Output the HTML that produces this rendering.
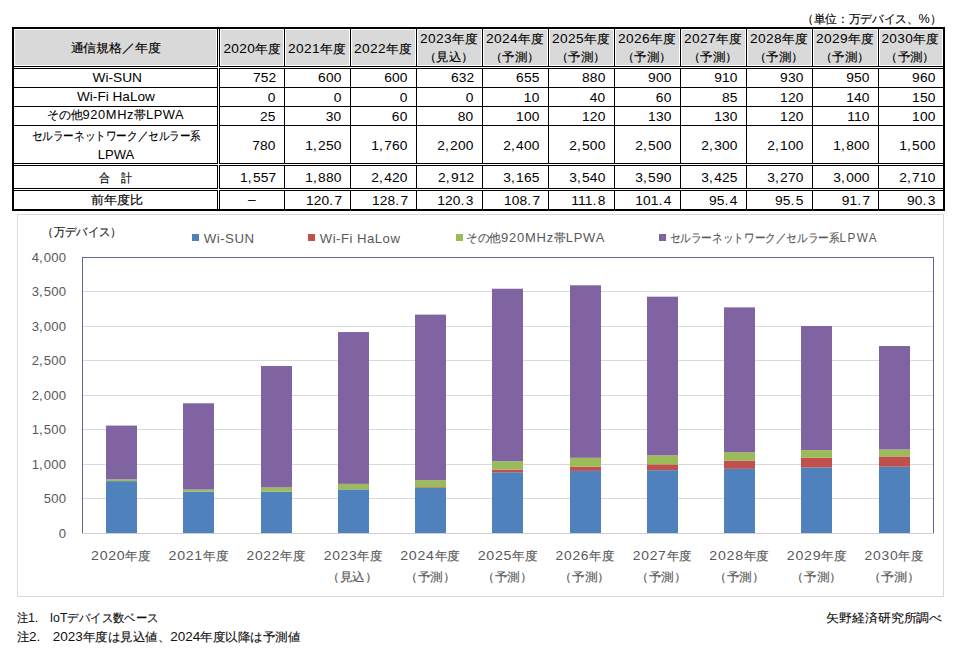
<!DOCTYPE html>
<html><head><meta charset="utf-8"><title>920MHz帯LPWA</title>
<style>
html,body{margin:0;padding:0;background:#fff;width:953px;height:666px;overflow:hidden}
svg{display:block;font-family:"Liberation Sans",sans-serif}
svg text{white-space:pre}
</style></head><body>
<svg width="953" height="666" viewBox="0 0 953 666">
<g id="shp" shape-rendering="crispEdges">
<rect x="15" y="30" width="201" height="35" fill="#d9d9d9"/>
<rect x="221" y="30" width="62" height="35" fill="#d9d9d9"/>
<rect x="286" y="30" width="63" height="35" fill="#d9d9d9"/>
<rect x="352" y="30" width="63" height="35" fill="#d9d9d9"/>
<rect x="418" y="30" width="63" height="35" fill="#d9d9d9"/>
<rect x="484" y="30" width="63" height="35" fill="#d9d9d9"/>
<rect x="550" y="30" width="63" height="35" fill="#d9d9d9"/>
<rect x="616" y="30" width="63" height="35" fill="#d9d9d9"/>
<rect x="682" y="30" width="63" height="35" fill="#d9d9d9"/>
<rect x="748" y="30" width="63" height="35" fill="#d9d9d9"/>
<rect x="814" y="30" width="63" height="35" fill="#d9d9d9"/>
<rect x="880" y="30" width="62" height="35" fill="#d9d9d9"/>
<rect x="217" y="27" width="1" height="184" fill="#000"/>
<rect x="219" y="27" width="1" height="184" fill="#000"/>
<rect x="284" y="27" width="1" height="184" fill="#000"/>
<rect x="350" y="27" width="1" height="184" fill="#000"/>
<rect x="416" y="27" width="1" height="184" fill="#000"/>
<rect x="482" y="27" width="1" height="184" fill="#000"/>
<rect x="548" y="27" width="1" height="184" fill="#000"/>
<rect x="614" y="27" width="1" height="184" fill="#000"/>
<rect x="680" y="27" width="1" height="184" fill="#000"/>
<rect x="746" y="27" width="1" height="184" fill="#000"/>
<rect x="812" y="27" width="1" height="184" fill="#000"/>
<rect x="878" y="27" width="1" height="184" fill="#000"/>
<rect x="12" y="66" width="933" height="1" fill="#000"/>
<rect x="12" y="68" width="933" height="1" fill="#000"/>
<rect x="12" y="87" width="933" height="1" fill="#000"/>
<rect x="12" y="106" width="933" height="1" fill="#000"/>
<rect x="12" y="125" width="933" height="1" fill="#000"/>
<rect x="12" y="163" width="933" height="1" fill="#000"/>
<rect x="12" y="165" width="933" height="1" fill="#000"/>
<rect x="12" y="188" width="933" height="1" fill="#000"/>
<rect x="12" y="190" width="933" height="1" fill="#000"/>
<rect x="12" y="27" width="933" height="2" fill="#000"/>
<rect x="12" y="209" width="933" height="2" fill="#000"/>
<rect x="12" y="27" width="2" height="184" fill="#000"/>
<rect x="943" y="27" width="2" height="184" fill="#000"/>
<rect x="218" y="29" width="1" height="180" fill="#fff"/>
<rect x="14" y="67" width="929" height="1" fill="#fff"/>
<rect x="14" y="164" width="929" height="1" fill="#fff"/>
<rect x="14" y="189" width="929" height="1" fill="#fff"/>
<rect x="17.5" y="214.5" width="926" height="382" fill="none" stroke="#d9d9d9" stroke-width="1"/>
<rect x="83" y="533" width="850" height="1" fill="#d9d9d9"/>
<rect x="83" y="498" width="850" height="1" fill="#d9d9d9"/>
<rect x="83" y="464" width="850" height="1" fill="#d9d9d9"/>
<rect x="83" y="429" width="850" height="1" fill="#d9d9d9"/>
<rect x="83" y="395" width="850" height="1" fill="#d9d9d9"/>
<rect x="83" y="360" width="850" height="1" fill="#d9d9d9"/>
<rect x="83" y="326" width="850" height="1" fill="#d9d9d9"/>
<rect x="83" y="291" width="850" height="1" fill="#d9d9d9"/>
<rect x="83" y="257" width="850" height="1" fill="#d9d9d9"/>
<rect x="106" y="481.11" width="31" height="51.89" fill="#4f81bd" shape-rendering="geometricPrecision"/>
<rect x="106" y="479.39" width="31" height="1.72" fill="#9bbb59" shape-rendering="geometricPrecision"/>
<rect x="106" y="425.57" width="31" height="53.82" fill="#8064a2" shape-rendering="geometricPrecision"/>
<rect x="183" y="491.60" width="31" height="41.40" fill="#4f81bd" shape-rendering="geometricPrecision"/>
<rect x="183" y="489.53" width="31" height="2.07" fill="#9bbb59" shape-rendering="geometricPrecision"/>
<rect x="183" y="403.28" width="31" height="86.25" fill="#8064a2" shape-rendering="geometricPrecision"/>
<rect x="261" y="491.60" width="31" height="41.40" fill="#4f81bd" shape-rendering="geometricPrecision"/>
<rect x="261" y="487.46" width="31" height="4.14" fill="#9bbb59" shape-rendering="geometricPrecision"/>
<rect x="261" y="366.02" width="31" height="121.44" fill="#8064a2" shape-rendering="geometricPrecision"/>
<rect x="338" y="489.39" width="31" height="43.61" fill="#4f81bd" shape-rendering="geometricPrecision"/>
<rect x="338" y="483.87" width="31" height="5.52" fill="#9bbb59" shape-rendering="geometricPrecision"/>
<rect x="338" y="332.07" width="31" height="151.80" fill="#8064a2" shape-rendering="geometricPrecision"/>
<rect x="415" y="487.81" width="31" height="45.19" fill="#4f81bd" shape-rendering="geometricPrecision"/>
<rect x="415" y="487.12" width="31" height="0.69" fill="#c0504d" shape-rendering="geometricPrecision"/>
<rect x="415" y="480.21" width="31" height="6.90" fill="#9bbb59" shape-rendering="geometricPrecision"/>
<rect x="415" y="314.62" width="31" height="165.60" fill="#8064a2" shape-rendering="geometricPrecision"/>
<rect x="492" y="472.28" width="31" height="60.72" fill="#4f81bd" shape-rendering="geometricPrecision"/>
<rect x="492" y="469.52" width="31" height="2.76" fill="#c0504d" shape-rendering="geometricPrecision"/>
<rect x="492" y="461.24" width="31" height="8.28" fill="#9bbb59" shape-rendering="geometricPrecision"/>
<rect x="492" y="288.74" width="31" height="172.50" fill="#8064a2" shape-rendering="geometricPrecision"/>
<rect x="570" y="470.90" width="31" height="62.10" fill="#4f81bd" shape-rendering="geometricPrecision"/>
<rect x="570" y="466.76" width="31" height="4.14" fill="#c0504d" shape-rendering="geometricPrecision"/>
<rect x="570" y="457.79" width="31" height="8.97" fill="#9bbb59" shape-rendering="geometricPrecision"/>
<rect x="570" y="285.29" width="31" height="172.50" fill="#8064a2" shape-rendering="geometricPrecision"/>
<rect x="647" y="470.21" width="31" height="62.79" fill="#4f81bd" shape-rendering="geometricPrecision"/>
<rect x="647" y="464.35" width="31" height="5.86" fill="#c0504d" shape-rendering="geometricPrecision"/>
<rect x="647" y="455.38" width="31" height="8.97" fill="#9bbb59" shape-rendering="geometricPrecision"/>
<rect x="647" y="296.67" width="31" height="158.70" fill="#8064a2" shape-rendering="geometricPrecision"/>
<rect x="724" y="468.83" width="31" height="64.17" fill="#4f81bd" shape-rendering="geometricPrecision"/>
<rect x="724" y="460.55" width="31" height="8.28" fill="#c0504d" shape-rendering="geometricPrecision"/>
<rect x="724" y="452.27" width="31" height="8.28" fill="#9bbb59" shape-rendering="geometricPrecision"/>
<rect x="724" y="307.37" width="31" height="144.90" fill="#8064a2" shape-rendering="geometricPrecision"/>
<rect x="801" y="467.45" width="31" height="65.55" fill="#4f81bd" shape-rendering="geometricPrecision"/>
<rect x="801" y="457.79" width="31" height="9.66" fill="#c0504d" shape-rendering="geometricPrecision"/>
<rect x="801" y="450.20" width="31" height="7.59" fill="#9bbb59" shape-rendering="geometricPrecision"/>
<rect x="801" y="326.00" width="31" height="124.20" fill="#8064a2" shape-rendering="geometricPrecision"/>
<rect x="879" y="466.76" width="31" height="66.24" fill="#4f81bd" shape-rendering="geometricPrecision"/>
<rect x="879" y="456.41" width="31" height="10.35" fill="#c0504d" shape-rendering="geometricPrecision"/>
<rect x="879" y="449.51" width="31" height="6.90" fill="#9bbb59" shape-rendering="geometricPrecision"/>
<rect x="879" y="346.01" width="31" height="103.50" fill="#8064a2" shape-rendering="geometricPrecision"/>
<rect x="82" y="257" width="852" height="1" fill="#5f6797"/>
<rect x="82" y="257" width="1" height="277" fill="#5f6797"/>
<rect x="933" y="257" width="1" height="277" fill="#5f6797"/>
<rect x="82" y="533" width="852" height="1" fill="#d0d0d0"/>
<rect x="192" y="234" width="7" height="7" fill="#4f81bd"/>
<rect x="308" y="234" width="7" height="7" fill="#c0504d"/>
<rect x="456" y="234" width="7" height="7" fill="#9bbb59"/>
<rect x="659" y="234" width="7" height="7" fill="#8064a2"/>
</g>
<g id="txt">
<text x="802.13" y="22.76" font-size="13" fill="#000" textLength="139.30" lengthAdjust="spacingAndGlyphs"><tspan font-size="11.96" stroke="#000" stroke-width="0.15">（単位：万デバイス、</tspan>%<tspan font-size="11.96" stroke="#000" stroke-width="0.15">）</tspan></text>
<text x="70.50" y="52.10" font-size="13" fill="#000" textLength="90.70" lengthAdjust="spacingAndGlyphs"><tspan font-size="11.96" stroke="#000" stroke-width="0.15">通信規格／年度</tspan></text>
<text x="223.40" y="52.60" font-size="13" fill="#000" textLength="57.18" lengthAdjust="spacingAndGlyphs"><tspan letter-spacing="0.35">2020</tspan><tspan font-size="11.96" stroke="#000" stroke-width="0.15">年度</tspan></text>
<text x="288.02" y="52.60" font-size="13" fill="#000" textLength="57.18" lengthAdjust="spacingAndGlyphs"><tspan letter-spacing="0.35">2021</tspan><tspan font-size="11.96" stroke="#000" stroke-width="0.15">年度</tspan></text>
<text x="354.02" y="52.60" font-size="13" fill="#000" textLength="57.18" lengthAdjust="spacingAndGlyphs"><tspan letter-spacing="0.35">2022</tspan><tspan font-size="11.96" stroke="#000" stroke-width="0.15">年度</tspan></text>
<text x="420.02" y="43.40" font-size="13" fill="#000" textLength="57.18" lengthAdjust="spacingAndGlyphs"><tspan letter-spacing="0.35">2023</tspan><tspan font-size="11.96" stroke="#000" stroke-width="0.15">年度</tspan></text>
<text x="423.77" y="60.75" font-size="13" fill="#000" textLength="49.69" lengthAdjust="spacingAndGlyphs"><tspan font-size="11.96" stroke="#000" stroke-width="0.15">（見込）</tspan></text>
<text x="486.02" y="43.40" font-size="13" fill="#000" textLength="57.18" lengthAdjust="spacingAndGlyphs"><tspan letter-spacing="0.35">2024</tspan><tspan font-size="11.96" stroke="#000" stroke-width="0.15">年度</tspan></text>
<text x="489.77" y="60.75" font-size="13" fill="#000" textLength="49.69" lengthAdjust="spacingAndGlyphs"><tspan font-size="11.96" stroke="#000" stroke-width="0.15">（予測）</tspan></text>
<text x="552.02" y="43.40" font-size="13" fill="#000" textLength="57.18" lengthAdjust="spacingAndGlyphs"><tspan letter-spacing="0.35">2025</tspan><tspan font-size="11.96" stroke="#000" stroke-width="0.15">年度</tspan></text>
<text x="555.77" y="60.75" font-size="13" fill="#000" textLength="49.69" lengthAdjust="spacingAndGlyphs"><tspan font-size="11.96" stroke="#000" stroke-width="0.15">（予測）</tspan></text>
<text x="618.02" y="43.40" font-size="13" fill="#000" textLength="57.18" lengthAdjust="spacingAndGlyphs"><tspan letter-spacing="0.35">2026</tspan><tspan font-size="11.96" stroke="#000" stroke-width="0.15">年度</tspan></text>
<text x="621.77" y="60.75" font-size="13" fill="#000" textLength="49.69" lengthAdjust="spacingAndGlyphs"><tspan font-size="11.96" stroke="#000" stroke-width="0.15">（予測）</tspan></text>
<text x="684.02" y="43.40" font-size="13" fill="#000" textLength="57.18" lengthAdjust="spacingAndGlyphs"><tspan letter-spacing="0.35">2027</tspan><tspan font-size="11.96" stroke="#000" stroke-width="0.15">年度</tspan></text>
<text x="687.77" y="60.75" font-size="13" fill="#000" textLength="49.69" lengthAdjust="spacingAndGlyphs"><tspan font-size="11.96" stroke="#000" stroke-width="0.15">（予測）</tspan></text>
<text x="750.02" y="43.40" font-size="13" fill="#000" textLength="57.18" lengthAdjust="spacingAndGlyphs"><tspan letter-spacing="0.35">2028</tspan><tspan font-size="11.96" stroke="#000" stroke-width="0.15">年度</tspan></text>
<text x="753.77" y="60.75" font-size="13" fill="#000" textLength="49.69" lengthAdjust="spacingAndGlyphs"><tspan font-size="11.96" stroke="#000" stroke-width="0.15">（予測）</tspan></text>
<text x="816.02" y="43.40" font-size="13" fill="#000" textLength="57.18" lengthAdjust="spacingAndGlyphs"><tspan letter-spacing="0.35">2029</tspan><tspan font-size="11.96" stroke="#000" stroke-width="0.15">年度</tspan></text>
<text x="819.77" y="60.75" font-size="13" fill="#000" textLength="49.69" lengthAdjust="spacingAndGlyphs"><tspan font-size="11.96" stroke="#000" stroke-width="0.15">（予測）</tspan></text>
<text x="881.44" y="43.40" font-size="13" fill="#000" textLength="56.73" lengthAdjust="spacingAndGlyphs"><tspan letter-spacing="0.35">2030</tspan><tspan font-size="11.96" stroke="#000" stroke-width="0.15">年度</tspan></text>
<text x="885.19" y="60.75" font-size="13" fill="#000" textLength="49.69" lengthAdjust="spacingAndGlyphs"><tspan font-size="11.96" stroke="#000" stroke-width="0.15">（予測）</tspan></text>
<text x="92.60" y="82.00" font-size="13" fill="#000" textLength="49.41" lengthAdjust="spacingAndGlyphs">Wi-SUN</text>
<text x="77.00" y="101.00" font-size="13" fill="#000" textLength="77.86" lengthAdjust="spacingAndGlyphs">Wi-Fi HaLow</text>
<text x="46.96" y="119.40" font-size="13" fill="#000" textLength="137.35" lengthAdjust="spacingAndGlyphs"><tspan font-size="11.96" stroke="#000" stroke-width="0.15">その他</tspan><tspan letter-spacing="0.6">920MHz</tspan><tspan font-size="11.96" stroke="#000" stroke-width="0.15">帯</tspan><tspan letter-spacing="0.6">LPWA</tspan></text>
<text x="31.66" y="139.50" font-size="13" fill="#000" textLength="169.40" lengthAdjust="spacingAndGlyphs"><tspan font-size="11.96" stroke="#000" stroke-width="0.15">セルラーネットワーク／セルラー系</tspan></text>
<text x="97.80" y="159.00" font-size="13" fill="#000" textLength="36.47" lengthAdjust="spacingAndGlyphs">LPWA</text>
<text x="98.80" y="182.25" font-size="13" fill="#000" textLength="33.30" lengthAdjust="spacingAndGlyphs"><tspan font-size="11.96" stroke="#000" stroke-width="0.15">合　計</tspan></text>
<text x="90.60" y="203.97" font-size="13" fill="#000" textLength="52.18" lengthAdjust="spacingAndGlyphs"><tspan font-size="11.96" stroke="#000" stroke-width="0.15">前年度比</tspan></text>
<text x="276.20" y="82.00" font-size="13" fill="#000" text-anchor="end" letter-spacing="0.1" transform="matrix(1.06,0,0,1,-16.57,0)">752</text>
<text x="341.40" y="82.00" font-size="13" fill="#000" text-anchor="end" letter-spacing="0.1" transform="matrix(1.06,0,0,1,-20.48,0)">600</text>
<text x="407.40" y="82.00" font-size="13" fill="#000" text-anchor="end" letter-spacing="0.1" transform="matrix(1.06,0,0,1,-24.44,0)">600</text>
<text x="474.20" y="82.00" font-size="13" fill="#000" text-anchor="end" letter-spacing="0.1" transform="matrix(1.06,0,0,1,-28.45,0)">632</text>
<text x="539.40" y="82.00" font-size="13" fill="#000" text-anchor="end" letter-spacing="0.1" transform="matrix(1.06,0,0,1,-32.36,0)">655</text>
<text x="605.40" y="82.00" font-size="13" fill="#000" text-anchor="end" letter-spacing="0.1" transform="matrix(1.06,0,0,1,-36.32,0)">880</text>
<text x="671.40" y="82.00" font-size="13" fill="#000" text-anchor="end" letter-spacing="0.1" transform="matrix(1.06,0,0,1,-40.28,0)">900</text>
<text x="737.40" y="82.00" font-size="13" fill="#000" text-anchor="end" letter-spacing="0.1" transform="matrix(1.06,0,0,1,-44.24,0)">910</text>
<text x="803.40" y="82.00" font-size="13" fill="#000" text-anchor="end" letter-spacing="0.1" transform="matrix(1.06,0,0,1,-48.20,0)">930</text>
<text x="869.40" y="82.00" font-size="13" fill="#000" text-anchor="end" letter-spacing="0.1" transform="matrix(1.06,0,0,1,-52.16,0)">950</text>
<text x="935.40" y="82.00" font-size="13" fill="#000" text-anchor="end" letter-spacing="0.1" transform="matrix(1.06,0,0,1,-56.12,0)">960</text>
<text x="275.40" y="102.00" font-size="13" fill="#000" text-anchor="end" letter-spacing="0.1" transform="matrix(1.06,0,0,1,-16.52,0)">0</text>
<text x="341.40" y="102.00" font-size="13" fill="#000" text-anchor="end" letter-spacing="0.1" transform="matrix(1.06,0,0,1,-20.48,0)">0</text>
<text x="407.40" y="102.00" font-size="13" fill="#000" text-anchor="end" letter-spacing="0.1" transform="matrix(1.06,0,0,1,-24.44,0)">0</text>
<text x="473.40" y="102.00" font-size="13" fill="#000" text-anchor="end" letter-spacing="0.1" transform="matrix(1.06,0,0,1,-28.40,0)">0</text>
<text x="539.40" y="102.00" font-size="13" fill="#000" text-anchor="end" letter-spacing="0.1" transform="matrix(1.06,0,0,1,-32.36,0)">10</text>
<text x="605.40" y="102.00" font-size="13" fill="#000" text-anchor="end" letter-spacing="0.1" transform="matrix(1.06,0,0,1,-36.32,0)">40</text>
<text x="671.40" y="102.00" font-size="13" fill="#000" text-anchor="end" letter-spacing="0.1" transform="matrix(1.06,0,0,1,-40.28,0)">60</text>
<text x="737.40" y="102.00" font-size="13" fill="#000" text-anchor="end" letter-spacing="0.1" transform="matrix(1.06,0,0,1,-44.24,0)">85</text>
<text x="803.40" y="102.00" font-size="13" fill="#000" text-anchor="end" letter-spacing="0.1" transform="matrix(1.06,0,0,1,-48.20,0)">120</text>
<text x="869.40" y="102.00" font-size="13" fill="#000" text-anchor="end" letter-spacing="0.1" transform="matrix(1.06,0,0,1,-52.16,0)">140</text>
<text x="935.40" y="102.00" font-size="13" fill="#000" text-anchor="end" letter-spacing="0.1" transform="matrix(1.06,0,0,1,-56.12,0)">150</text>
<text x="275.40" y="120.90" font-size="13" fill="#000" text-anchor="end" letter-spacing="0.1" transform="matrix(1.06,0,0,1,-16.52,0)">25</text>
<text x="341.40" y="120.90" font-size="13" fill="#000" text-anchor="end" letter-spacing="0.1" transform="matrix(1.06,0,0,1,-20.48,0)">30</text>
<text x="407.40" y="120.90" font-size="13" fill="#000" text-anchor="end" letter-spacing="0.1" transform="matrix(1.06,0,0,1,-24.44,0)">60</text>
<text x="473.40" y="120.90" font-size="13" fill="#000" text-anchor="end" letter-spacing="0.1" transform="matrix(1.06,0,0,1,-28.40,0)">80</text>
<text x="539.40" y="120.90" font-size="13" fill="#000" text-anchor="end" letter-spacing="0.1" transform="matrix(1.06,0,0,1,-32.36,0)">100</text>
<text x="605.40" y="120.90" font-size="13" fill="#000" text-anchor="end" letter-spacing="0.1" transform="matrix(1.06,0,0,1,-36.32,0)">120</text>
<text x="671.40" y="120.90" font-size="13" fill="#000" text-anchor="end" letter-spacing="0.1" transform="matrix(1.06,0,0,1,-40.28,0)">130</text>
<text x="737.40" y="120.90" font-size="13" fill="#000" text-anchor="end" letter-spacing="0.1" transform="matrix(1.06,0,0,1,-44.24,0)">130</text>
<text x="803.40" y="120.90" font-size="13" fill="#000" text-anchor="end" letter-spacing="0.1" transform="matrix(1.06,0,0,1,-48.20,0)">120</text>
<text x="869.40" y="120.90" font-size="13" fill="#000" text-anchor="end" letter-spacing="0.1" transform="matrix(1.06,0,0,1,-52.16,0)">110</text>
<text x="935.40" y="120.90" font-size="13" fill="#000" text-anchor="end" letter-spacing="0.1" transform="matrix(1.06,0,0,1,-56.12,0)">100</text>
<text x="275.40" y="149.90" font-size="13" fill="#000" text-anchor="end" letter-spacing="0.1" transform="matrix(1.06,0,0,1,-16.52,0)">780</text>
<text x="341.40" y="149.62" font-size="13" fill="#000" text-anchor="end" letter-spacing="0.1" transform="matrix(1.06,0,0,1,-20.48,0)">1<tspan letter-spacing="1.30">,</tspan>250</text>
<text x="407.40" y="149.62" font-size="13" fill="#000" text-anchor="end" letter-spacing="0.1" transform="matrix(1.06,0,0,1,-24.44,0)">1<tspan letter-spacing="1.30">,</tspan>760</text>
<text x="473.40" y="149.62" font-size="13" fill="#000" text-anchor="end" letter-spacing="0.1" transform="matrix(1.06,0,0,1,-28.40,0)">2<tspan letter-spacing="1.30">,</tspan>200</text>
<text x="539.40" y="149.62" font-size="13" fill="#000" text-anchor="end" letter-spacing="0.1" transform="matrix(1.06,0,0,1,-32.36,0)">2<tspan letter-spacing="1.30">,</tspan>400</text>
<text x="605.40" y="149.62" font-size="13" fill="#000" text-anchor="end" letter-spacing="0.1" transform="matrix(1.06,0,0,1,-36.32,0)">2<tspan letter-spacing="1.30">,</tspan>500</text>
<text x="671.40" y="149.62" font-size="13" fill="#000" text-anchor="end" letter-spacing="0.1" transform="matrix(1.06,0,0,1,-40.28,0)">2<tspan letter-spacing="1.30">,</tspan>500</text>
<text x="737.40" y="149.62" font-size="13" fill="#000" text-anchor="end" letter-spacing="0.1" transform="matrix(1.06,0,0,1,-44.24,0)">2<tspan letter-spacing="1.30">,</tspan>300</text>
<text x="803.40" y="149.62" font-size="13" fill="#000" text-anchor="end" letter-spacing="0.1" transform="matrix(1.06,0,0,1,-48.20,0)">2<tspan letter-spacing="1.30">,</tspan>100</text>
<text x="869.40" y="149.62" font-size="13" fill="#000" text-anchor="end" letter-spacing="0.1" transform="matrix(1.06,0,0,1,-52.16,0)">1<tspan letter-spacing="1.30">,</tspan>800</text>
<text x="935.40" y="149.62" font-size="13" fill="#000" text-anchor="end" letter-spacing="0.1" transform="matrix(1.06,0,0,1,-56.12,0)">1<tspan letter-spacing="1.30">,</tspan>500</text>
<text x="276.20" y="181.62" font-size="13" fill="#000" text-anchor="end" letter-spacing="0.1" transform="matrix(1.06,0,0,1,-16.57,0)">1<tspan letter-spacing="1.30">,</tspan>557</text>
<text x="341.40" y="181.62" font-size="13" fill="#000" text-anchor="end" letter-spacing="0.1" transform="matrix(1.06,0,0,1,-20.48,0)">1<tspan letter-spacing="1.30">,</tspan>880</text>
<text x="407.40" y="181.62" font-size="13" fill="#000" text-anchor="end" letter-spacing="0.1" transform="matrix(1.06,0,0,1,-24.44,0)">2<tspan letter-spacing="1.30">,</tspan>420</text>
<text x="474.20" y="181.62" font-size="13" fill="#000" text-anchor="end" letter-spacing="0.1" transform="matrix(1.06,0,0,1,-28.45,0)">2<tspan letter-spacing="1.30">,</tspan>912</text>
<text x="539.40" y="181.62" font-size="13" fill="#000" text-anchor="end" letter-spacing="0.1" transform="matrix(1.06,0,0,1,-32.36,0)">3<tspan letter-spacing="1.30">,</tspan>165</text>
<text x="605.40" y="181.62" font-size="13" fill="#000" text-anchor="end" letter-spacing="0.1" transform="matrix(1.06,0,0,1,-36.32,0)">3<tspan letter-spacing="1.30">,</tspan>540</text>
<text x="671.40" y="181.62" font-size="13" fill="#000" text-anchor="end" letter-spacing="0.1" transform="matrix(1.06,0,0,1,-40.28,0)">3<tspan letter-spacing="1.30">,</tspan>590</text>
<text x="737.40" y="181.62" font-size="13" fill="#000" text-anchor="end" letter-spacing="0.1" transform="matrix(1.06,0,0,1,-44.24,0)">3<tspan letter-spacing="1.30">,</tspan>425</text>
<text x="803.40" y="181.62" font-size="13" fill="#000" text-anchor="end" letter-spacing="0.1" transform="matrix(1.06,0,0,1,-48.20,0)">3<tspan letter-spacing="1.30">,</tspan>270</text>
<text x="869.40" y="181.62" font-size="13" fill="#000" text-anchor="end" letter-spacing="0.1" transform="matrix(1.06,0,0,1,-52.16,0)">3<tspan letter-spacing="1.30">,</tspan>000</text>
<text x="935.40" y="181.62" font-size="13" fill="#000" text-anchor="end" letter-spacing="0.1" transform="matrix(1.06,0,0,1,-56.12,0)">2<tspan letter-spacing="1.30">,</tspan>710</text>
<text x="248.10" y="203.90" font-size="13" fill="#000" textLength="7.69" lengthAdjust="spacingAndGlyphs">–</text>
<text x="342.20" y="204.90" font-size="13" fill="#000" text-anchor="end" letter-spacing="0.1" transform="matrix(1.06,0,0,1,-20.53,0)">120<tspan letter-spacing="1.30">.</tspan>7</text>
<text x="408.20" y="204.90" font-size="13" fill="#000" text-anchor="end" letter-spacing="0.1" transform="matrix(1.06,0,0,1,-24.49,0)">128<tspan letter-spacing="1.30">.</tspan>7</text>
<text x="473.40" y="204.90" font-size="13" fill="#000" text-anchor="end" letter-spacing="0.1" transform="matrix(1.06,0,0,1,-28.40,0)">120<tspan letter-spacing="1.30">.</tspan>3</text>
<text x="540.20" y="204.90" font-size="13" fill="#000" text-anchor="end" letter-spacing="0.1" transform="matrix(1.06,0,0,1,-32.41,0)">108<tspan letter-spacing="1.30">.</tspan>7</text>
<text x="605.40" y="204.90" font-size="13" fill="#000" text-anchor="end" letter-spacing="0.1" transform="matrix(1.06,0,0,1,-36.32,0)">111<tspan letter-spacing="1.30">.</tspan>8</text>
<text x="671.40" y="204.90" font-size="13" fill="#000" text-anchor="end" letter-spacing="0.1" transform="matrix(1.06,0,0,1,-40.28,0)">101<tspan letter-spacing="1.30">.</tspan>4</text>
<text x="737.40" y="204.90" font-size="13" fill="#000" text-anchor="end" letter-spacing="0.1" transform="matrix(1.06,0,0,1,-44.24,0)">95<tspan letter-spacing="1.30">.</tspan>4</text>
<text x="803.40" y="204.90" font-size="13" fill="#000" text-anchor="end" letter-spacing="0.1" transform="matrix(1.06,0,0,1,-48.20,0)">95<tspan letter-spacing="1.30">.</tspan>5</text>
<text x="870.20" y="204.90" font-size="13" fill="#000" text-anchor="end" letter-spacing="0.1" transform="matrix(1.06,0,0,1,-52.21,0)">91<tspan letter-spacing="1.30">.</tspan>7</text>
<text x="935.40" y="204.90" font-size="13" fill="#000" text-anchor="end" letter-spacing="0.1" transform="matrix(1.06,0,0,1,-56.12,0)">90<tspan letter-spacing="1.30">.</tspan>3</text>
<text x="42.31" y="236.00" font-size="13.3" fill="#1a1a1a" textLength="79.32" lengthAdjust="spacingAndGlyphs"><tspan font-size="12.24" stroke="#1a1a1a" stroke-width="0.15">（万デバイス）</tspan></text>
<text x="203.70" y="242.75" font-size="13.3" fill="#595959" textLength="50.92" lengthAdjust="spacingAndGlyphs"><tspan letter-spacing="0.5">Wi-SUN</tspan></text>
<text x="319.80" y="242.75" font-size="13.3" fill="#595959" textLength="80.60" lengthAdjust="spacingAndGlyphs"><tspan letter-spacing="0.5">Wi-Fi HaLow</tspan></text>
<text x="465.84" y="241.75" font-size="13.3" fill="#595959" textLength="139.28" lengthAdjust="spacingAndGlyphs"><tspan font-size="12.24" stroke="#595959" stroke-width="0.15">その他</tspan><tspan letter-spacing="0.8">920MHz</tspan><tspan font-size="12.24" stroke="#595959" stroke-width="0.15">帯</tspan><tspan letter-spacing="0.8">LPWA</tspan></text>
<text x="669.66" y="241.75" font-size="13.3" fill="#595959" textLength="208.37" lengthAdjust="spacingAndGlyphs"><tspan font-size="12.24" stroke="#595959" stroke-width="0.15">セルラーネットワーク／セルラー系</tspan><tspan letter-spacing="1.6">LPWA</tspan></text>
<text x="66.20" y="538.00" font-size="12.5" fill="#595959" text-anchor="end" letter-spacing="0.15" transform="matrix(1.05,0,0,1,-3.31,0)">0</text>
<text x="66.20" y="503.00" font-size="12.5" fill="#595959" text-anchor="end" letter-spacing="0.15" transform="matrix(1.05,0,0,1,-3.31,0)">500</text>
<text x="66.20" y="468.80" font-size="12.5" fill="#595959" text-anchor="end" letter-spacing="0.15" transform="matrix(1.05,0,0,1,-3.31,0)">1<tspan letter-spacing="1.05">,</tspan>000</text>
<text x="66.20" y="433.80" font-size="12.5" fill="#595959" text-anchor="end" letter-spacing="0.15" transform="matrix(1.05,0,0,1,-3.31,0)">1<tspan letter-spacing="1.05">,</tspan>500</text>
<text x="66.20" y="399.80" font-size="12.5" fill="#595959" text-anchor="end" letter-spacing="0.15" transform="matrix(1.05,0,0,1,-3.31,0)">2<tspan letter-spacing="1.05">,</tspan>000</text>
<text x="66.20" y="364.80" font-size="12.5" fill="#595959" text-anchor="end" letter-spacing="0.15" transform="matrix(1.05,0,0,1,-3.31,0)">2<tspan letter-spacing="1.05">,</tspan>500</text>
<text x="66.20" y="330.80" font-size="12.5" fill="#595959" text-anchor="end" letter-spacing="0.15" transform="matrix(1.05,0,0,1,-3.31,0)">3<tspan letter-spacing="1.05">,</tspan>000</text>
<text x="66.20" y="295.80" font-size="12.5" fill="#595959" text-anchor="end" letter-spacing="0.15" transform="matrix(1.05,0,0,1,-3.31,0)">3<tspan letter-spacing="1.05">,</tspan>500</text>
<text x="66.20" y="261.80" font-size="12.5" fill="#595959" text-anchor="end" letter-spacing="0.15" transform="matrix(1.05,0,0,1,-3.31,0)">4<tspan letter-spacing="1.05">,</tspan>000</text>
<text x="91.08" y="560.15" font-size="13.5" fill="#595959" textLength="59.55" lengthAdjust="spacingAndGlyphs"><tspan letter-spacing="0.7">2020</tspan><tspan font-size="12.42" stroke="#595959" stroke-width="0.15">年度</tspan></text>
<text x="168.57" y="560.15" font-size="13.5" fill="#595959" textLength="59.55" lengthAdjust="spacingAndGlyphs"><tspan letter-spacing="0.7">2021</tspan><tspan font-size="12.42" stroke="#595959" stroke-width="0.15">年度</tspan></text>
<text x="246.47" y="560.15" font-size="13.5" fill="#595959" textLength="58.40" lengthAdjust="spacingAndGlyphs"><tspan letter-spacing="0.7">2022</tspan><tspan font-size="12.42" stroke="#595959" stroke-width="0.15">年度</tspan></text>
<text x="323.75" y="560.15" font-size="13.5" fill="#595959" textLength="58.40" lengthAdjust="spacingAndGlyphs"><tspan letter-spacing="0.7">2023</tspan><tspan font-size="12.42" stroke="#595959" stroke-width="0.15">年度</tspan></text>
<text x="327.13" y="580.75" font-size="13.5" fill="#595959" textLength="50.26" lengthAdjust="spacingAndGlyphs"><tspan font-size="12.42" stroke="#595959" stroke-width="0.15">（見込）</tspan></text>
<text x="400.23" y="560.15" font-size="13.5" fill="#595959" textLength="59.55" lengthAdjust="spacingAndGlyphs"><tspan letter-spacing="0.7">2024</tspan><tspan font-size="12.42" stroke="#595959" stroke-width="0.15">年度</tspan></text>
<text x="405.09" y="580.75" font-size="13.5" fill="#595959" textLength="50.26" lengthAdjust="spacingAndGlyphs"><tspan font-size="12.42" stroke="#595959" stroke-width="0.15">（予測）</tspan></text>
<text x="477.71" y="560.15" font-size="13.5" fill="#595959" textLength="59.55" lengthAdjust="spacingAndGlyphs"><tspan letter-spacing="0.7">2025</tspan><tspan font-size="12.42" stroke="#595959" stroke-width="0.15">年度</tspan></text>
<text x="482.36" y="580.75" font-size="13.5" fill="#595959" textLength="50.26" lengthAdjust="spacingAndGlyphs"><tspan font-size="12.42" stroke="#595959" stroke-width="0.15">（予測）</tspan></text>
<text x="555.55" y="560.15" font-size="13.5" fill="#595959" textLength="58.40" lengthAdjust="spacingAndGlyphs"><tspan letter-spacing="0.7">2026</tspan><tspan font-size="12.42" stroke="#595959" stroke-width="0.15">年度</tspan></text>
<text x="559.51" y="580.75" font-size="13.5" fill="#595959" textLength="50.57" lengthAdjust="spacingAndGlyphs"><tspan font-size="12.42" stroke="#595959" stroke-width="0.15">（予測）</tspan></text>
<text x="632.82" y="560.15" font-size="13.5" fill="#595959" textLength="58.40" lengthAdjust="spacingAndGlyphs"><tspan letter-spacing="0.7">2027</tspan><tspan font-size="12.42" stroke="#595959" stroke-width="0.15">年度</tspan></text>
<text x="636.28" y="580.75" font-size="13.5" fill="#595959" textLength="50.26" lengthAdjust="spacingAndGlyphs"><tspan font-size="12.42" stroke="#595959" stroke-width="0.15">（予測）</tspan></text>
<text x="709.37" y="560.15" font-size="13.5" fill="#595959" textLength="59.55" lengthAdjust="spacingAndGlyphs"><tspan letter-spacing="0.7">2028</tspan><tspan font-size="12.42" stroke="#595959" stroke-width="0.15">年度</tspan></text>
<text x="714.17" y="580.75" font-size="13.5" fill="#595959" textLength="50.26" lengthAdjust="spacingAndGlyphs"><tspan font-size="12.42" stroke="#595959" stroke-width="0.15">（予測）</tspan></text>
<text x="786.86" y="560.15" font-size="13.5" fill="#595959" textLength="59.55" lengthAdjust="spacingAndGlyphs"><tspan letter-spacing="0.7">2029</tspan><tspan font-size="12.42" stroke="#595959" stroke-width="0.15">年度</tspan></text>
<text x="791.44" y="580.75" font-size="13.5" fill="#595959" textLength="50.26" lengthAdjust="spacingAndGlyphs"><tspan font-size="12.42" stroke="#595959" stroke-width="0.15">（予測）</tspan></text>
<text x="864.63" y="560.15" font-size="13.5" fill="#595959" textLength="58.40" lengthAdjust="spacingAndGlyphs"><tspan letter-spacing="0.7">2030</tspan><tspan font-size="12.42" stroke="#595959" stroke-width="0.15">年度</tspan></text>
<text x="867.66" y="580.75" font-size="13.5" fill="#595959" textLength="52.15" lengthAdjust="spacingAndGlyphs"><tspan font-size="12.42" stroke="#595959" stroke-width="0.15">（予測）</tspan></text>
<text x="16.60" y="622.35" font-size="13" fill="#111" textLength="141.94" lengthAdjust="spacingAndGlyphs"><tspan font-size="11.96" stroke="#111" stroke-width="0.15">注</tspan>1.<tspan font-size="11.96" stroke="#111" stroke-width="0.15">　</tspan>IoT<tspan font-size="11.96" stroke="#111" stroke-width="0.15">デバイス数ベース</tspan></text>
<text x="16.60" y="641.40" font-size="13" fill="#111" textLength="283.50" lengthAdjust="spacingAndGlyphs"><tspan font-size="11.96" stroke="#111" stroke-width="0.15">注</tspan>2.<tspan font-size="11.96" stroke="#111" stroke-width="0.15">　</tspan>2023<tspan font-size="11.96" stroke="#111" stroke-width="0.15">年度は見込値、</tspan>2024<tspan font-size="11.96" stroke="#111" stroke-width="0.15">年度以降は予測値</tspan></text>
<text x="826.30" y="622.40" font-size="13" fill="#111" textLength="115.81" lengthAdjust="spacingAndGlyphs"><tspan font-size="11.96" stroke="#111" stroke-width="0.15">矢野経済研究所調べ</tspan></text>
</g>
</svg>
</body></html>
